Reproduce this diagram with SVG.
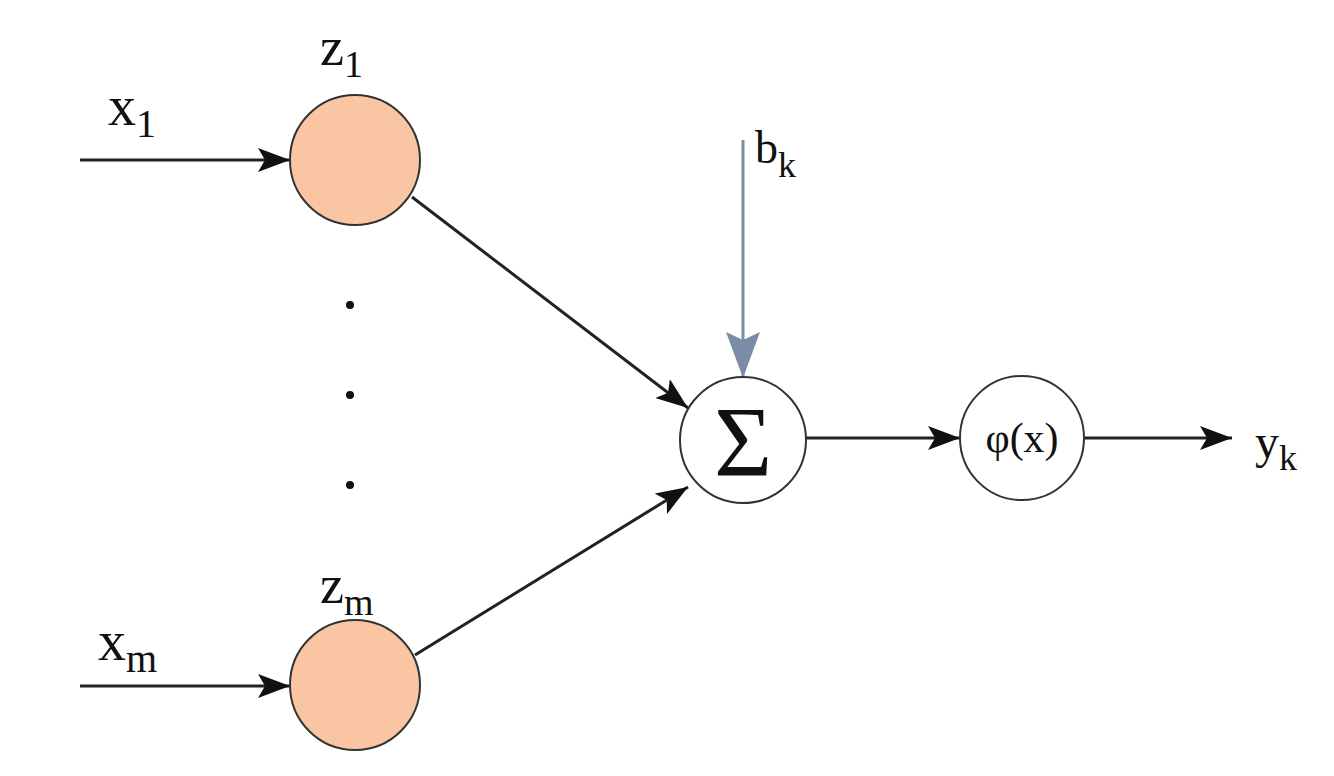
<svg xmlns="http://www.w3.org/2000/svg" width="1334" height="776" viewBox="0 0 1334 776">
<style>
.t{font-family:"Liberation Serif",serif;fill:#111}
.ln{stroke:#222;stroke-width:3;fill:none}
.in{fill:#F9C5A2;stroke:#333;stroke-width:2}
.op{fill:#fff;stroke:#333;stroke-width:2}
</style>
<defs>
<marker id="a" markerWidth="32" markerHeight="24" refX="32" refY="12" orient="auto" markerUnits="userSpaceOnUse" viewBox="0 0 32 24"><path d="M0,0 L32,12 L0,24 L7,12z" fill="#111"/></marker>
<marker id="g" markerWidth="46" markerHeight="34" refX="46" refY="17" orient="auto" markerUnits="userSpaceOnUse" viewBox="0 0 46 34"><path d="M0,0 L46,17 L0,34 L8,17z" fill="#7A8CA6"/></marker>
</defs>
<rect width="1334" height="776" fill="#fff"/>
<g id="connectors">
<line class="ln" x1="80" y1="160" x2="290" y2="160" marker-end="url(#a)"/>
<line class="ln" x1="80" y1="686" x2="290" y2="686" marker-end="url(#a)"/>
<line class="ln" x1="412" y1="197" x2="688" y2="408" marker-end="url(#a)"/>
<line class="ln" x1="415" y1="655" x2="688" y2="487" marker-end="url(#a)"/>
<line x1="743" y1="140" x2="743" y2="378" stroke="#7A8CA6" stroke-width="3" marker-end="url(#g)"/>
<line class="ln" x1="806" y1="438" x2="960" y2="438" marker-end="url(#a)"/>
<line class="ln" x1="1084" y1="438" x2="1232" y2="438" marker-end="url(#a)"/>
</g>
<g id="z1"><circle class="in" cx="355" cy="160" r="65"/><text class="t" x="320" y="65" font-size="54">z<tspan font-size="38" dy="12">1</tspan></text></g>
<g id="zm"><circle class="in" cx="355" cy="685" r="65"/><text class="t" x="320" y="603" font-size="54">z<tspan font-size="38" dy="12">m</tspan></text></g>
<g id="sum"><circle class="op" cx="743" cy="440" r="63"/><text class="t" x="743" y="475" font-size="100" text-anchor="middle">Σ</text></g>
<g id="phi"><circle class="op" cx="1022" cy="438" r="62"/><text class="t" x="1022" y="452" font-size="42" text-anchor="middle">φ(x)</text></g>
<g id="labels">
<text class="t" x="108" y="125" font-size="56">x<tspan font-size="40" dy="12">1</tspan></text>
<text class="t" x="98" y="660" font-size="56">x<tspan font-size="40" dy="12">m</tspan></text>
<text class="t" x="755" y="163" font-size="46">b<tspan font-size="36" dy="14">k</tspan></text>
<text class="t" x="1255" y="458" font-size="48">y<tspan font-size="36" dy="12">k</tspan></text>
<circle cx="350" cy="305" r="4" fill="#111"/><circle cx="350" cy="395" r="4" fill="#111"/><circle cx="350" cy="485" r="4" fill="#111"/>
</g>
</svg>
